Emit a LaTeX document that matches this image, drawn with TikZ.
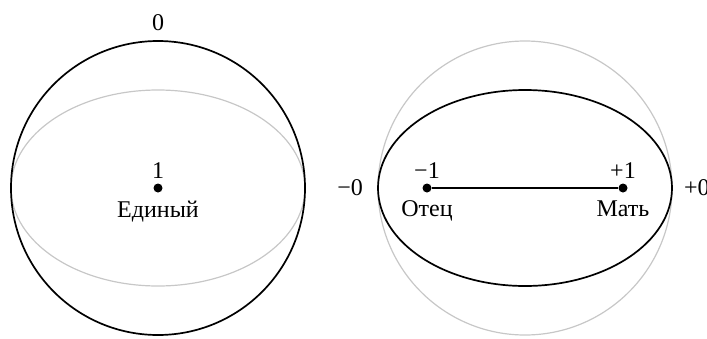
\documentclass[tikz,border=0pt]{standalone}
\usepackage{fontspec}
\setmainfont{Liberation Serif}
\usetikzlibrary{positioning}

\begin{document}
\begin{tikzpicture}[x=1pt, y=-1pt, font=\fontsize{24}{27}\selectfont,
    pt/.style={circle, fill, inner sep=0pt, minimum size=9pt},
    lbl/.style={inner sep=1pt},
    ring/.style={line width=1.7pt},
    faint/.style={line width=1.2pt, black!22}]
    \useasboundingbox (0,0) rectangle (707,338);

    % left: one point
    \draw [faint] (158,188) ellipse [x radius=147, y radius=98];
    \draw [ring] (158,188) circle [radius=147];
    \coordinate (top) at (158,41);
    \node [lbl, above=9pt of top] (zero) {0};
    \node [pt] (one) at (158,188) {};
    \node [lbl, above=4pt of one] (onelbl) {1};
    \node [lbl, below=7pt of one] (unity) {Единый};

    % right: two points
    \draw [faint] (525,188) circle [radius=147];
    \draw [ring] (525,188) ellipse [x radius=147, y radius=98];
    \coordinate (lw) at (378,188);
    \coordinate (rw) at (672,188);
    \node [lbl, left=14pt of lw] (mzero) {−0};
    \node [lbl, right=11pt of rw] (pzero) {+0};
    \node [pt] (f) at (427,188) {};
    \node [pt] (m) at (623,188) {};
    \node [lbl, above=4pt of f] (flbl) {−1};
    \node [lbl, above=4pt of m] (mlbl) {+1};
    \node [lbl, below=7pt of f] (father) {Отец};
    \node [lbl, below=7pt of m] (mother) {Мать};
    \draw [ring] (f) -- (m);
\end{tikzpicture}
\end{document}
